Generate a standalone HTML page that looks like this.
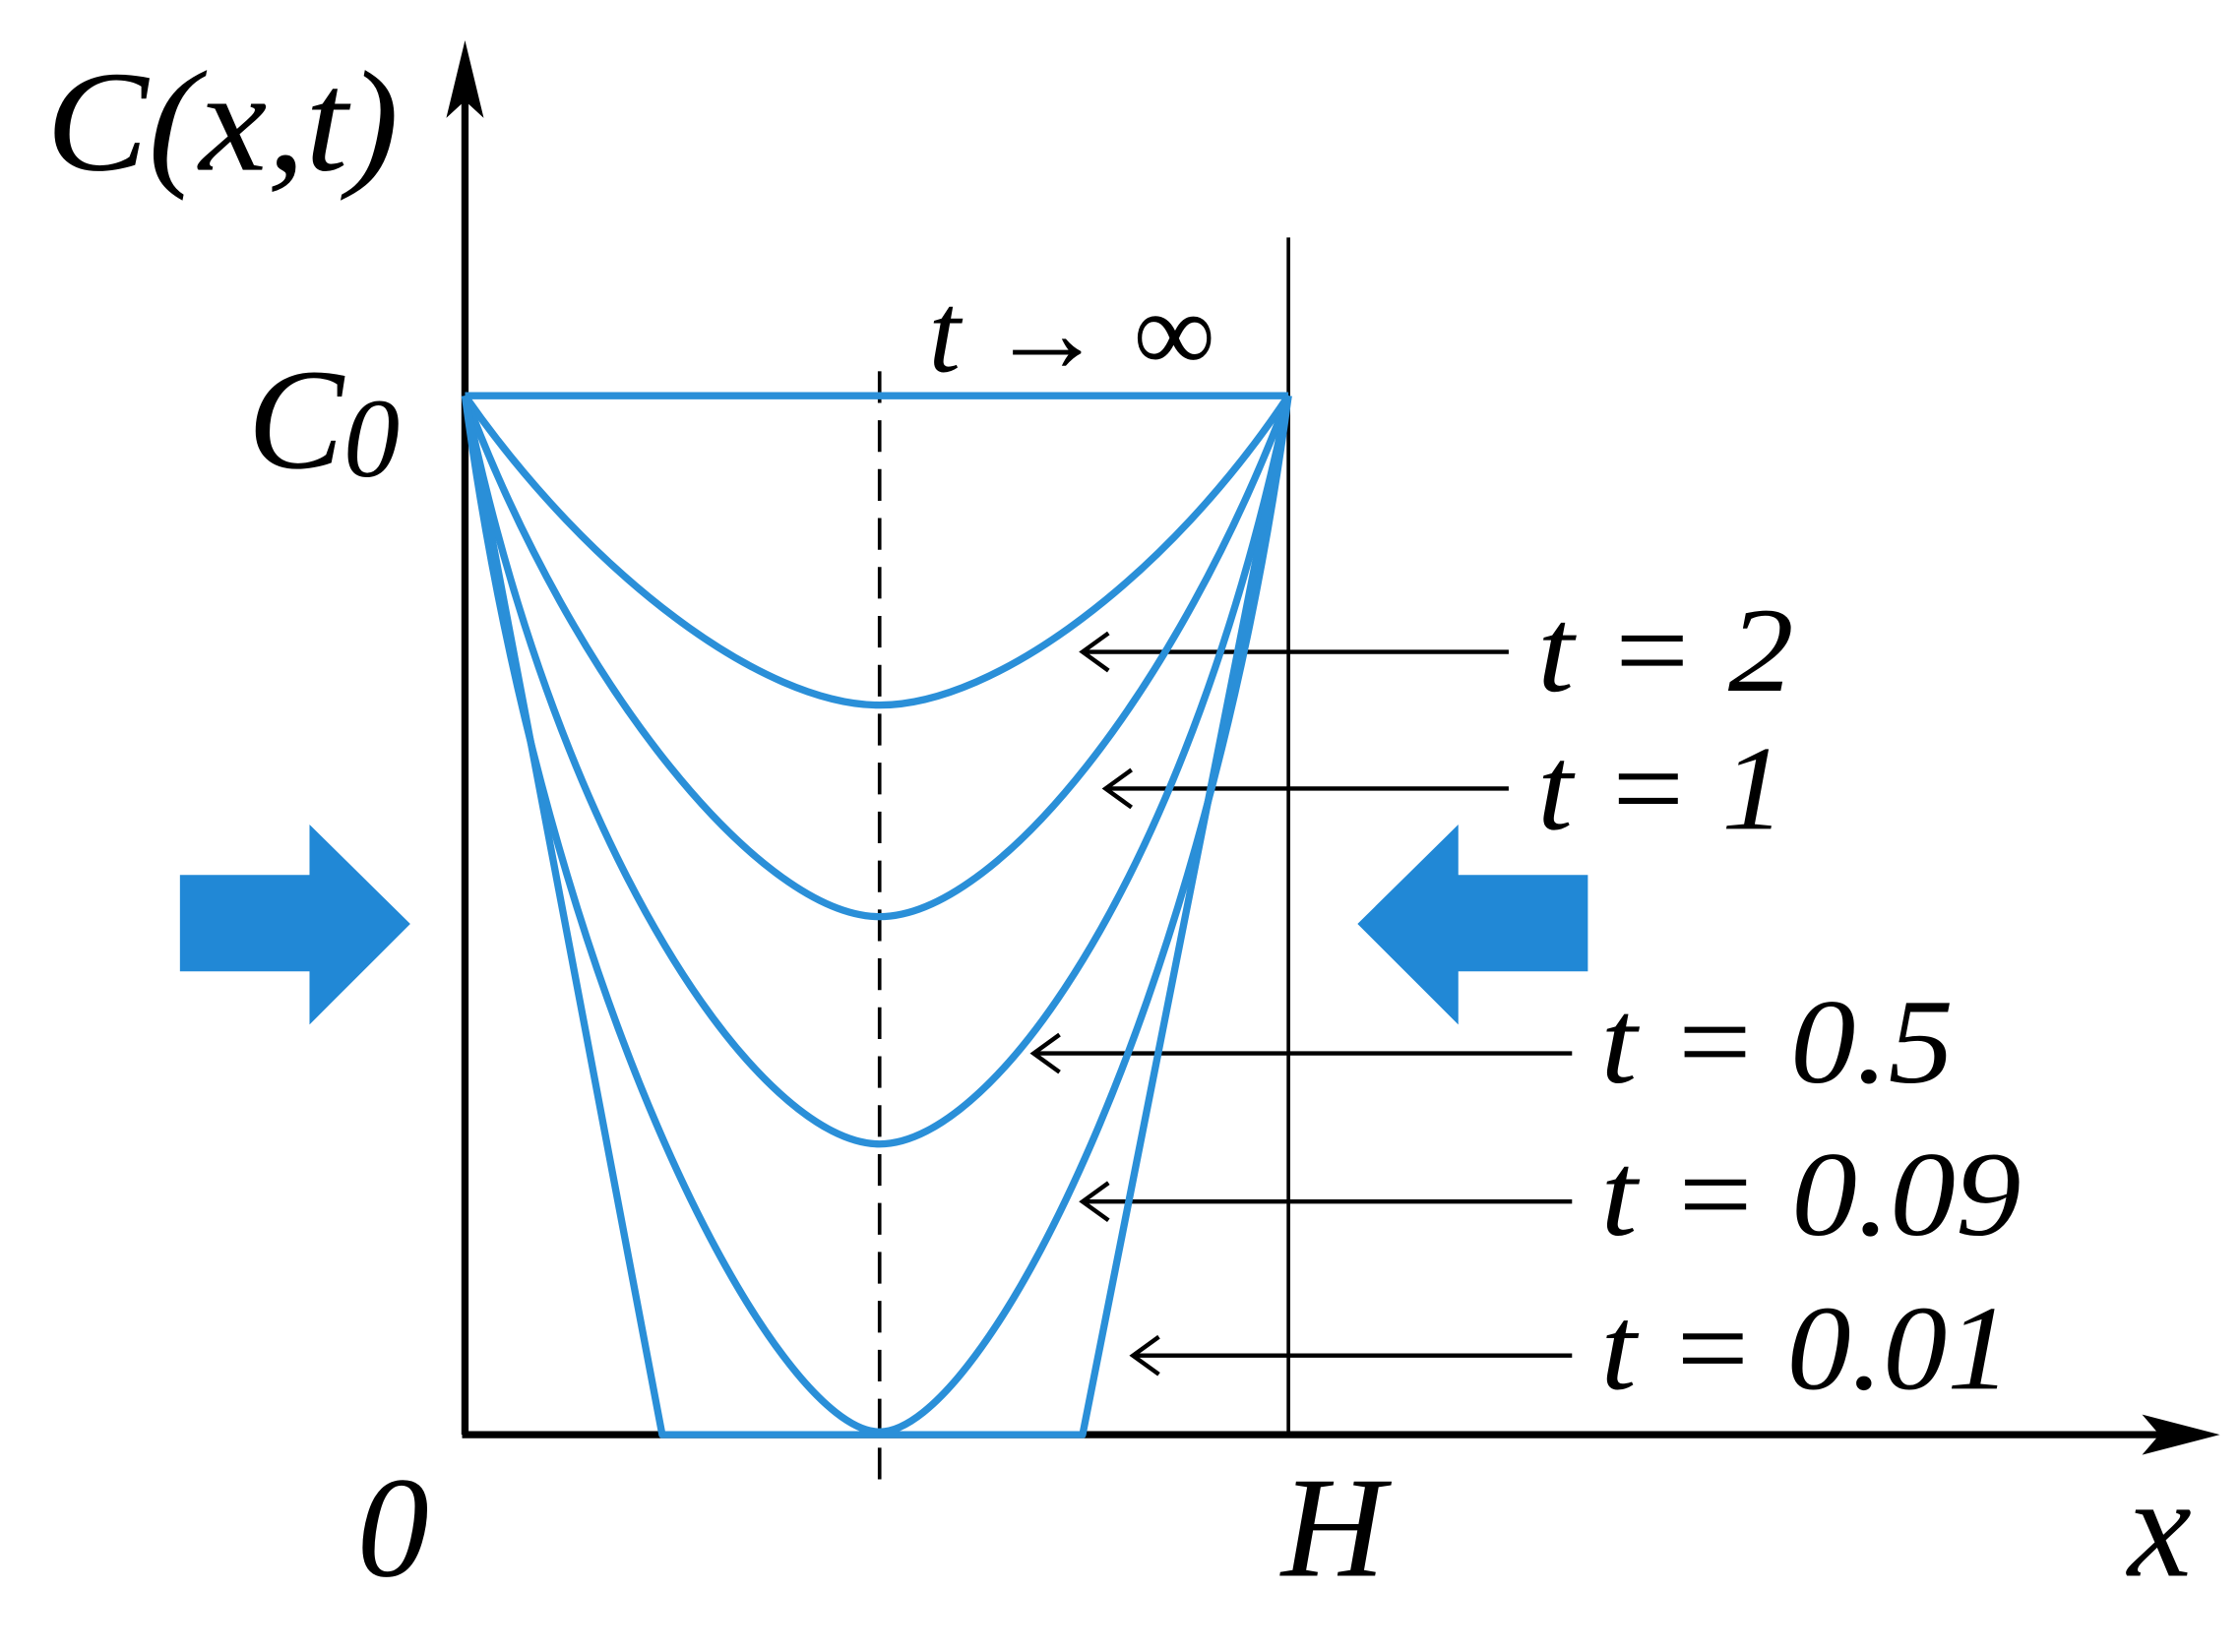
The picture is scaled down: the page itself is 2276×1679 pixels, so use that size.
<!DOCTYPE html>
<html><head><meta charset="utf-8"><style>html,body{margin:0;padding:0;background:#fff}svg{display:block}</style></head>
<body>
<svg width="2276" height="1679" viewBox="0 0 1556 1148" preserveAspectRatio="none" xmlns="http://www.w3.org/2000/svg">
<g font-family="Liberation Serif, serif" font-style="italic" fill="#000">
<text x="32" y="118" font-size="100" textLength="245" lengthAdjust="spacingAndGlyphs">C(x,t)</text>
<text x="172" y="325" font-size="100">C<tspan font-size="78" dy="6">0</tspan></text>
<text x="248" y="1095" font-size="100">0</text>
<text x="890" y="1095" font-size="100">H</text>
<text x="1478" y="1095" font-size="100">x</text>
<text x="645" y="258" font-size="80">t <tspan font-style="normal">→ ∞</tspan></text>
<text x="1068" y="480" font-size="84" textLength="178" lengthAdjust="spacingAndGlyphs">t = 2</text>
<text x="1068" y="576" font-size="84" textLength="172" lengthAdjust="spacingAndGlyphs">t = 1</text>
<text x="1112" y="752" font-size="84" textLength="245" lengthAdjust="spacingAndGlyphs">t = 0.5</text>
<text x="1112" y="858" font-size="84" textLength="292" lengthAdjust="spacingAndGlyphs">t = 0.09</text>
<text x="1112" y="965" font-size="84" textLength="285" lengthAdjust="spacingAndGlyphs">t = 0.01</text>
</g>
<g stroke="#000" fill="none">
<line x1="323" y1="997" x2="323" y2="60" stroke-width="5"/>
<line x1="321" y1="997" x2="1510" y2="997" stroke-width="5"/>
<line x1="895" y1="165" x2="895" y2="997" stroke-width="2.5"/>
<line x1="611" y1="258" x2="611" y2="1038" stroke-width="2.5" stroke-dasharray="22,12"/>
<line x1="1048" y1="453" x2="752" y2="453" stroke-width="3"/>
<line x1="1048" y1="548" x2="770" y2="548" stroke-width="3"/>
<line x1="1092" y1="732" x2="720" y2="732" stroke-width="3"/>
<line x1="1092" y1="835" x2="754" y2="835" stroke-width="3"/>
<line x1="1092" y1="942" x2="789" y2="942" stroke-width="3"/>
<g stroke-width="3">
<polyline points="770,440 752,453 770,466"/>
<polyline points="786,535 768,548 786,561"/>
<polyline points="736,719 718,732 736,745"/>
<polyline points="770,822 752,835 770,848"/>
<polyline points="805,929 787,942 805,955"/>
</g>
</g>
<g fill="#000">
<polygon points="323,28 310,82 323,70 336,82"/>
<polygon points="1542,997 1488,983 1500,997 1488,1011"/>
</g>
<g stroke="#2a8fd8" stroke-width="5" fill="none" stroke-linejoin="round">
<line x1="323" y1="275" x2="895" y2="275"/>
<path d="M323,275 C410,400 530,490 611,490 C692,490 812,400 895,275"/>
<path d="M323,275 C400,480 530,637 611,637 C692,637 818,480 895,275"/>
<path d="M323,275 C390,600 530,795 611,795 C692,795 828,600 895,275"/>
<path d="M323,275 C380,700 540,995 611,995 C682,995 838,700 895,275"/>
<path d="M323,275 L460,997 L752,997 L895,275"/>
</g>
<g fill="#2188d6">
<polygon points="125,608 215,608 215,573 285,642 215,712 215,675 125,675"/>
<polygon points="1103,608 1013,608 1013,573 943,642 1013,712 1013,675 1103,675"/>
</g>
</svg>
</body></html>
